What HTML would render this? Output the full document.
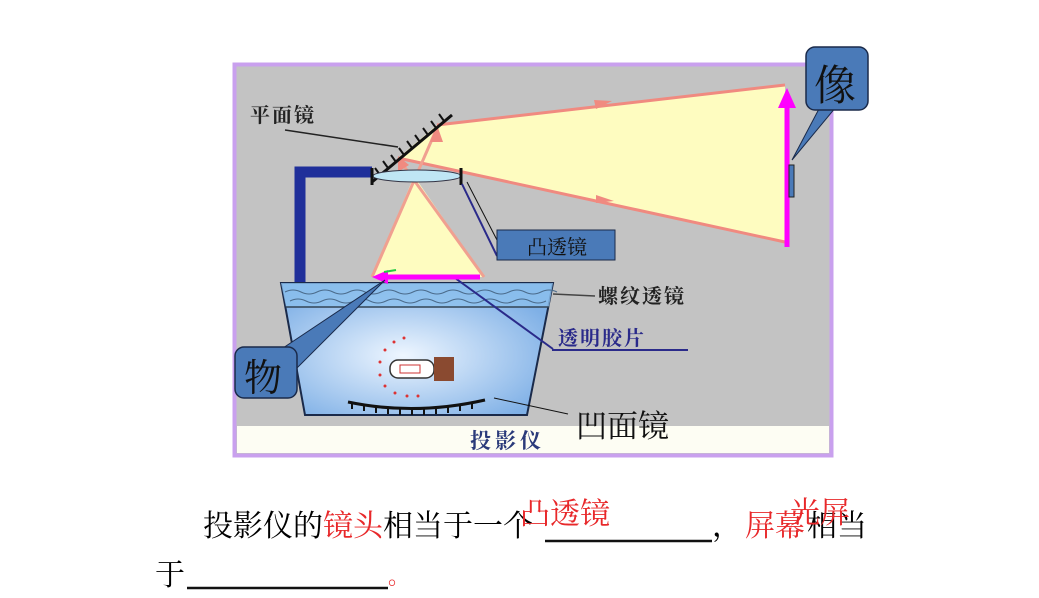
<!DOCTYPE html>
<html><head><meta charset="utf-8"><style>
body{margin:0;width:1039px;height:598px;background:#fff;overflow:hidden;position:relative;font-family:"Liberation Serif","Noto Serif CJK SC",serif}
.t{position:absolute;font-size:30px;line-height:1;white-space:nowrap}
.r{color:#e8282a}
</style></head><body>
<svg width="1039" height="598" style="position:absolute;left:0;top:0" font-family="Liberation Serif, Noto Serif CJK SC, serif">
<defs>
<radialGradient id="g" cx="0.45" cy="0.55" r="0.6"><stop offset="0" stop-color="#eef6ff"/><stop offset="1" stop-color="#7fb0e6"/></radialGradient>
</defs>
<rect x="234.5" y="64.5" width="597" height="391" fill="#c3c3c3" stroke="#c9a0ee" stroke-width="4"/>
<rect x="237" y="426" width="592" height="27" fill="#fdfdf3"/>
<text x="470" y="448" font-size="21" font-weight="bold" fill="#2a3a7a" letter-spacing="4">投影仪</text>
<text x="250" y="122" font-size="20" font-weight="bold" fill="#222" letter-spacing="2">平面镜</text>
<line x1="285" y1="130" x2="398" y2="147" stroke="#222" stroke-width="1.5"/>
<path d="M300 284 V172 H372" fill="none" stroke="#1f2f9a" stroke-width="11"/>
<polygon points="437,125 785,85 785,242 398,158" fill="#fefcc0"/>
<line x1="437" y1="125" x2="785" y2="85" stroke="#f08a80" stroke-width="3"/>
<line x1="398" y1="158" x2="785" y2="242" stroke="#f08a80" stroke-width="3"/>
<polygon points="594,100 612,101 596,109" fill="#f08a80"/>
<polygon points="596,195 614,201 596,203" fill="#f08a80"/>
<polygon points="414,176 372,277 484,277" fill="#fefcc0"/>
<line x1="372" y1="277" x2="437" y2="128" stroke="#f0a090" stroke-width="3"/>
<line x1="484" y1="277" x2="398" y2="158" stroke="#f0a090" stroke-width="3"/>
<polygon points="437,125 430,142 443,142" fill="#f08a80"/>
<polygon points="398,156 398,172 409,165" fill="#f08a80"/>
<line x1="372" y1="182" x2="452" y2="115" stroke="#111" stroke-width="3"/>
<g stroke="#111" stroke-width="2">
<line x1="380" y1="175" x2="375" y2="168"/><line x1="388" y1="168" x2="383" y2="161"/><line x1="396" y1="162" x2="391" y2="155"/><line x1="404" y1="155" x2="399" y2="148"/><line x1="412" y1="148" x2="407" y2="141"/><line x1="420" y1="142" x2="415" y2="135"/><line x1="428" y1="135" x2="423" y2="128"/><line x1="436" y1="128" x2="431" y2="121"/><line x1="444" y1="121" x2="439" y2="114"/>
</g>
<ellipse cx="417" cy="176" rx="44" ry="6" fill="#bfe6f4" stroke="#334" stroke-width="1"/>
<line x1="372" y1="168" x2="372" y2="185" stroke="#111" stroke-width="3"/>
<line x1="461" y1="168" x2="461" y2="185" stroke="#111" stroke-width="3"/>
<polygon points="281,283 553,283 527,415 305,415" fill="url(#g)" stroke="#1a2a4a" stroke-width="2"/>
<polygon points="281,283 553,283 549,307 286,307" fill="#8cc0ee" opacity="0.8"/>
<line x1="286" y1="307" x2="549" y2="307" stroke="#345" stroke-width="1.5"/>
<path d="M285 292 q8 -4 16 0 t16 0 t16 0 t16 0 t16 0 t16 0 t16 0 t16 0 t16 0 t16 0 t16 0 t16 0 t16 0 t16 0 t16 0 t16 0 t16 0" fill="none" stroke="#4a6a8a" stroke-width="1"/>
<path d="M290 301 q8 -4 16 0 t16 0 t16 0 t16 0 t16 0 t16 0 t16 0 t16 0 t16 0 t16 0 t16 0 t16 0 t16 0 t16 0 t16 0 t16 0" fill="none" stroke="#4a6a8a" stroke-width="1"/>
<line x1="553" y1="294" x2="595" y2="296" stroke="#444" stroke-width="1.5"/>
<text x="598" y="303" font-size="20" font-weight="bold" fill="#222" letter-spacing="2">螺纹透镜</text>
<text x="558" y="345" font-size="20" font-weight="bold" fill="#2a2a8a" letter-spacing="2">透明胶片</text>
<line x1="552" y1="350" x2="688" y2="350" stroke="#2a2a8a" stroke-width="2"/>
<line x1="455" y1="278" x2="553" y2="349" stroke="#2a2a8a" stroke-width="2"/>
<rect x="390" y="360" width="44" height="18" rx="8" fill="#fff" stroke="#333" stroke-width="1.5"/>
<rect x="400" y="365" width="20" height="8" fill="none" stroke="#c33" stroke-width="1"/>
<rect x="434" y="357" width="20" height="24" fill="#8a4a30"/>
<g fill="#d33"><circle cx="385" cy="350" r="1.5"/><circle cx="394" cy="342" r="1.5"/><circle cx="404" cy="338" r="1.5"/><circle cx="380" cy="362" r="1.5"/><circle cx="380" cy="375" r="1.5"/><circle cx="385" cy="386" r="1.5"/><circle cx="395" cy="393" r="1.5"/><circle cx="407" cy="396" r="1.5"/><circle cx="418" cy="396" r="1.5"/></g>
<path d="M348 402 Q415 416 485 400" fill="none" stroke="#111" stroke-width="3"/>
<g stroke="#111" stroke-width="2"><line x1="352" y1="403" x2="352" y2="409"/><line x1="364" y1="405" x2="364" y2="411"/><line x1="376" y1="407" x2="376" y2="413"/><line x1="388" y1="408" x2="388" y2="414"/><line x1="400" y1="409" x2="400" y2="415"/><line x1="412" y1="409" x2="412" y2="415"/><line x1="424" y1="409" x2="424" y2="415"/><line x1="436" y1="408" x2="436" y2="414"/><line x1="448" y1="407" x2="448" y2="413"/><line x1="460" y1="405" x2="460" y2="411"/><line x1="472" y1="403" x2="472" y2="409"/></g>
<line x1="494" y1="398" x2="568" y2="414" stroke="#111" stroke-width="1"/>
<text x="576" y="437" font-size="31" fill="#111">凹面镜</text>
<line x1="380" y1="277" x2="480" y2="277" stroke="#ff00ff" stroke-width="5"/>
<polygon points="372,277 388,270 388,284" fill="#ff00ff"/>
<line x1="384" y1="272" x2="396" y2="270" stroke="#22cc44" stroke-width="2"/>
<line x1="787" y1="105" x2="787" y2="247" stroke="#ff00ff" stroke-width="5"/>
<polygon points="787,88 778,108 796,108" fill="#ff00ff"/>
<rect x="789" y="165" width="5" height="32" fill="#4a7ab8" stroke="#222" stroke-width="1"/>
<path d="M820 107 L792 160 L836 107 Z" fill="#4a7ab8" stroke="#1a2a4a" stroke-width="1"/>
<rect x="806" y="47" width="62" height="63" rx="9" fill="#4a7ab8" stroke="#1a2a4a" stroke-width="1.5"/>
<text x="814" y="100" font-size="42" fill="#111">像</text>
<path d="M277 352 L385 280 L297 368 Z" fill="#4a7ab8" stroke="#1a2a4a" stroke-width="1"/>
<rect x="235" y="347" width="62" height="51" rx="9" fill="#4a7ab8" stroke="#1a2a4a" stroke-width="1.5"/>
<text x="244" y="391" font-size="38" fill="#111">物</text>
<line x1="462" y1="184" x2="497" y2="256" stroke="#2a2a8a" stroke-width="2"/>
<line x1="467" y1="182" x2="497" y2="240" stroke="#111" stroke-width="1"/>
<rect x="497" y="230" width="118" height="30" fill="#4a7ab8" stroke="#1a2a4a" stroke-width="1"/>
<text x="527" y="254" font-size="20" fill="#111">凸透镜</text>
<line x1="545" y1="541" x2="712" y2="541" stroke="#111" stroke-width="2.5"/>
<line x1="187" y1="588" x2="388" y2="588" stroke="#111" stroke-width="2.5"/>
</svg>
<div class="t" style="left:203px;top:512px">投影仪的<span class="r">镜头</span>相当于一个</div>
<div class="t r" style="left:520px;top:500px">凸透镜</div>
<div class="t" style="left:712px;top:512px">，</div>
<div class="t r" style="left:745px;top:512px">屏幕</div>
<div class="t" style="left:807px;top:512px">相当</div>
<div class="t r" style="left:790px;top:499px">光屏</div>
<div class="t" style="left:155px;top:561px">于</div>
<div class="t r" style="left:388px;top:566px;font-size:22px">。</div>
</body></html>
